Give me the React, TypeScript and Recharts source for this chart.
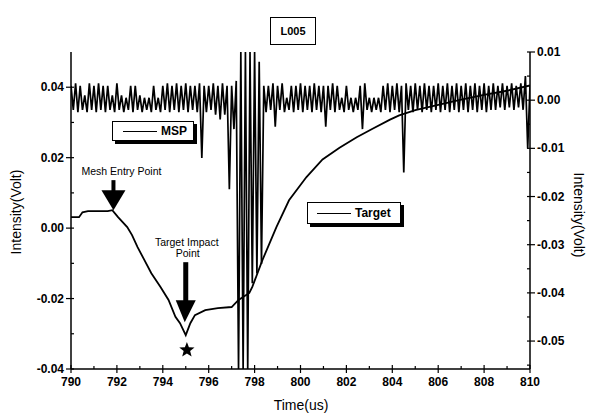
import React from "react";
import { LineChart, Line, XAxis, YAxis, ReferenceDot } from "recharts";

// Target trace (left axis)
const targetTime = [
  790.0, 790.35, 790.5, 790.74, 791.6, 791.8, 792.05, 792.45, 792.66, 792.9, 793.2, 793.5, 793.9, 794.25,
  794.55, 794.75, 795.0, 795.2, 795.4, 795.85, 796.4, 797.0, 797.3, 797.77, 797.9, 798.34, 798.95, 799.5,
  800.26, 800.96, 801.7, 802.45, 803.14, 803.9, 804.3, 805, 806, 807, 808, 809, 810,
];
const targetVolt = [
  0.0031, 0.0031, 0.0045, 0.0048, 0.0048, 0.0051, 0.0031, 0.0003, -0.002, -0.0054, -0.0091, -0.0128, -0.0167,
  -0.0204, -0.0252, -0.027, -0.0304, -0.027, -0.0247, -0.0233, -0.0227, -0.0224, -0.0204, -0.0184, -0.0167,
  -0.0091, 0.0003, 0.0079, 0.0145, 0.0195, 0.0228, 0.0258, 0.0282, 0.0308, 0.032, 0.0335, 0.035, 0.0365,
  0.0378, 0.039, 0.0405,
];

// MSP trace (right axis), sampled every 0.1 us from 790, in mV
const mspStart = 790;
const mspStep = 0.1;
const mspMilliVolt = [
  3, -2, 3.5, -2.5, 3, -2, 1, -2.5, 3.5, -2,
  3, -2.5, 3.5, -2, 3, -2.5, 3, -2, 1, -2.5,
  3.5, -2, 1, -2.5, 0.5, -2, 3, -2.5, 3, -2,
  1, -2.5, 0.5, -2, 0.5, -2.5, 3, -2, 0.5, -2.5,
  3, -2, 3.5, -2.5, 3, -2, 3.5, -2.5, 3, -2,
  3.5, -2.5, 3, -2, 3, -2.5, 3.5, -12, 3, -2.5,
  3, -2, 3.5, -3, 3, -4, 3.5, -3, 3, -18.5,
  3, -6, 4, -56, 10, -56, 10, -56, 10, -38,
  10, -36, 8, -34, 3, -2.5, 3, -2, 3.5, -5.5,
  3, -2, 3.5, -2.5, 0.5, -2, 3, -2.5, 3, -2,
  3.5, -2.5, 3, -2, 3, -2.5, 3.5, -2, 3, -2.5,
  3, -5.5, 3, -2, 3.5, -2.5, 3, -2, 0.5, -2.5,
  3, -2, 0.5, -2.5, 0.5, -2, 3, -6, 3.5, -2,
  0.5, -2.5, 0.5, -2, 0.5, -2.5, 3, -2, 3.5, -2.5,
  3, -2, 3.5, -2.5, 3, -15, 3.5, -2, 3, -2.5,
  3.5, -2, 3, -2.5, 3.5, -2, 3, -2.5, 3, -2,
  3.5, -2.5, 3, -2, 3.5, -2.5, 3, -2, 3.5, -2.5,
  3, -2, 3.5, -2.5, 3, -2, 3.5, -2.5, 3, -2,
  3.5, -2.5, 3, -2, 3.5, -2, 3, -1.5, 3.5, -2,
  3, -1.5, 3.5, -2, 3, -1.5, 3.5, -2, 5, -10,
  3,
];

const xTicks = [790, 791, 792, 793, 794, 795, 796, 797, 798, 799, 800, 801, 802, 803, 804, 805, 806, 807, 808, 809, 810];
const leftTicks = [-0.04, -0.03, -0.02, -0.01, 0, 0.01, 0.02, 0.03, 0.04];
const rightTicks = [0.01, 0.005, 0, -0.005, -0.01, -0.015, -0.02, -0.025, -0.03, -0.035, -0.04, -0.045, -0.05, -0.055];

const targetData = targetTime.map((t, i) => ({ t, target: targetVolt[i] }));
const mspData = mspMilliVolt.map((mv, i) => ({ t: +(mspStart + i * mspStep).toFixed(2), msp: mv / 1000 }));

const FONT = "'Liberation Sans', Arial, sans-serif";
const fmt = (v: number) => (Math.abs(v) < 1e-9 ? "0.00" : v.toFixed(2));

function BottomTick(props: any) {
  const { x, y, payload } = props;
  const major = payload.value % 2 === 0;
  return (
    <g>
      <line x1={x} x2={x} y1={major ? y - 4 : y - 3} y2={major ? y + 4 : y} stroke="#000" strokeWidth={1.2} />
      {major && (
        <text x={x} y={y + 17} textAnchor="middle" fontSize={12} fontWeight="bold" fontFamily={FONT} fill="#000">
          {payload.value}
        </text>
      )}
    </g>
  );
}

function TopTick(props: any) {
  const { x, y, payload } = props;
  const major = payload.value % 2 === 0;
  return <line x1={x} x2={x} y1={y} y2={y + (major ? 5 : 3)} stroke="#000" strokeWidth={1.2} />;
}

function LeftTick(props: any) {
  const { x, y, payload } = props;
  const major = Math.round(payload.value * 100) % 2 === 0;
  return (
    <g>
      <line x1={major ? x - 5 : x} x2={x + 3} y1={y} y2={y} stroke="#000" strokeWidth={1.2} />
      {major && (
        <text x={x - 7} y={y + 4} textAnchor="end" fontSize={12} fontWeight="bold" fontFamily={FONT} fill="#000">
          {fmt(payload.value)}
        </text>
      )}
    </g>
  );
}

function RightTick(props: any) {
  const { x, y, payload } = props;
  const major = Math.abs(Math.round(payload.value * 1000)) % 10 === 0;
  return (
    <g>
      <line x1={x - 3} x2={major ? x + 5 : x} y1={y} y2={y} stroke="#000" strokeWidth={1.2} />
      {major && (
        <text x={x + 7} y={y + 4} textAnchor="start" fontSize={12} fontWeight="bold" fontFamily={FONT} fill="#000">
          {fmt(payload.value)}
        </text>
      )}
    </g>
  );
}

function MeshArrow({ cx, cy }: any) {
  return (
    <g>
      <text x={cx + 8} y={cy - 35} textAnchor="middle" fontSize={10.5} fontFamily={FONT} fill="#000">
        Mesh Entry Point
      </text>
      <rect x={cx - 2} y={cy - 30} width={4} height={11} fill="#000" />
      <polygon points={`${cx - 12},${cy - 20} ${cx + 12},${cy - 20} ${cx},${cy}`} fill="#000" />
    </g>
  );
}

function ImpactArrow({ cx, cy }: any) {
  return (
    <g>
      <text x={cx + 1} y={cy - 89} textAnchor="middle" fontSize={10.5} fontFamily={FONT} fill="#000">
        Target Impact
      </text>
      <text x={cx + 2} y={cy - 78} textAnchor="middle" fontSize={10.5} fontFamily={FONT} fill="#000">
        Point
      </text>
      <rect x={cx - 2.5} y={cy - 73} width={5} height={39} fill="#000" />
      <polygon points={`${cx - 10},${cy - 35} ${cx + 10},${cy - 35} ${cx - 1},${cy - 13}`} fill="#000" />
    </g>
  );
}

function Star({ cx, cy }: any) {
  const pts: string[] = [];
  for (let k = 0; k < 10; k++) {
    const r = k % 2 === 0 ? 8 : 3.4;
    const a = -Math.PI / 2 + (k * Math.PI) / 5;
    pts.push(`${cx + r * Math.cos(a)},${cy + r * Math.sin(a)}`);
  }
  return <polygon points={pts.join(" ")} fill="#000" />;
}

const legendBox: React.CSSProperties = {
  position: "absolute",
  border: "1px solid #000",
  background: "#fff",
  boxShadow: "3px 3px 0 #000",
  display: "flex",
  alignItems: "center",
  fontFamily: FONT,
  fontSize: 12,
  fontWeight: "bold",
  boxSizing: "border-box",
};

export default function App() {
  const axisLine = { stroke: "#000", strokeWidth: 1.5 };
  return (
    <div style={{ position: "absolute", left: 0, top: 0, width: 591, height: 418, background: "#fff" }}>
      <LineChart width={591} height={418} margin={{ top: 52, right: 0, bottom: 0, left: 0 }}>
        <XAxis
          xAxisId="b"
          type="number"
          dataKey="t"
          domain={[790, 810]}
          ticks={xTicks}
          interval={0}
          height={49}
          tickSize={0}
          tickMargin={0}
          tickLine={false}
          tick={<BottomTick />}
          axisLine={axisLine}
          allowDataOverflow
        />
        <XAxis
          xAxisId="top"
          orientation="top"
          type="number"
          dataKey="t"
          domain={[790, 810]}
          ticks={xTicks}
          interval={0}
          height={0}
          tickSize={0}
          tickMargin={0}
          tickLine={false}
          tick={<TopTick />}
          axisLine={axisLine}
        />
        <YAxis
          yAxisId="left"
          type="number"
          domain={[-0.04, 0.05]}
          ticks={leftTicks}
          interval={0}
          width={71}
          tickSize={0}
          tickMargin={0}
          tickLine={false}
          tick={<LeftTick />}
          axisLine={axisLine}
          allowDataOverflow
        />
        <YAxis
          yAxisId="right"
          orientation="right"
          type="number"
          domain={[-0.0558, 0.01]}
          ticks={rightTicks}
          interval={0}
          width={61}
          tickSize={0}
          tickMargin={0}
          tickLine={false}
          tick={<RightTick />}
          axisLine={axisLine}
          allowDataOverflow
        />
        <Line
          xAxisId="b"
          yAxisId="right"
          data={mspData}
          dataKey="msp"
          stroke="#000"
          strokeWidth={1.7}
          dot={false}
          isAnimationActive={false}
        />
        <Line
          xAxisId="b"
          yAxisId="left"
          data={targetData}
          dataKey="target"
          stroke="#000"
          strokeWidth={1.8}
          dot={false}
          isAnimationActive={false}
        />
        <ReferenceDot xAxisId="b" yAxisId="left" x={791.85} y={0.0051} r={0} shape={(p: any) => <MeshArrow {...p} />} />
        <ReferenceDot xAxisId="b" yAxisId="left" x={795.0} y={-0.0304} r={0} shape={(p: any) => <ImpactArrow {...p} />} />
        <ReferenceDot xAxisId="b" yAxisId="left" x={795.05} y={-0.0346} r={0} shape={(p: any) => <Star {...p} />} />
      </LineChart>

      {/* title */}
      <div
        style={{
          position: "absolute",
          left: 270,
          top: 17,
          width: 46,
          height: 28,
          border: "1px solid #000",
          boxSizing: "border-box",
          display: "flex",
          alignItems: "center",
          justifyContent: "center",
          fontFamily: FONT,
          fontSize: 11,
          fontWeight: "bold",
        }}
      >
        L005
      </div>

      {/* legends */}
      <div style={{ ...legendBox, left: 112, top: 121, width: 82, height: 20 }}>
        <span style={{ display: "inline-block", width: 34, borderTop: "1px solid #000", marginLeft: 10, marginRight: 4 }} />
        MSP
      </div>
      <div style={{ ...legendBox, left: 307, top: 202, width: 94, height: 22 }}>
        <span style={{ display: "inline-block", width: 34, borderTop: "1.5px solid #000", marginLeft: 9, marginRight: 4 }} />
        Target
      </div>

      {/* axis titles */}
      <div
        style={{
          position: "absolute",
          left: 16,
          top: 212,
          transform: "translate(-50%, -50%) rotate(-90deg)",
          fontFamily: FONT,
          fontSize: 14,
          whiteSpace: "nowrap",
        }}
      >
        Intensity(Volt)
      </div>
      <div
        style={{
          position: "absolute",
          left: 579,
          top: 215,
          transform: "translate(-50%, -50%) rotate(90deg)",
          fontFamily: FONT,
          fontSize: 14,
          whiteSpace: "nowrap",
        }}
      >
        Intensity(Volt)
      </div>
      <div
        style={{
          position: "absolute",
          left: 301,
          top: 405,
          transform: "translate(-50%, -50%)",
          fontFamily: FONT,
          fontSize: 14,
          whiteSpace: "nowrap",
        }}
      >
        Time(us)
      </div>
    </div>
  );
}
